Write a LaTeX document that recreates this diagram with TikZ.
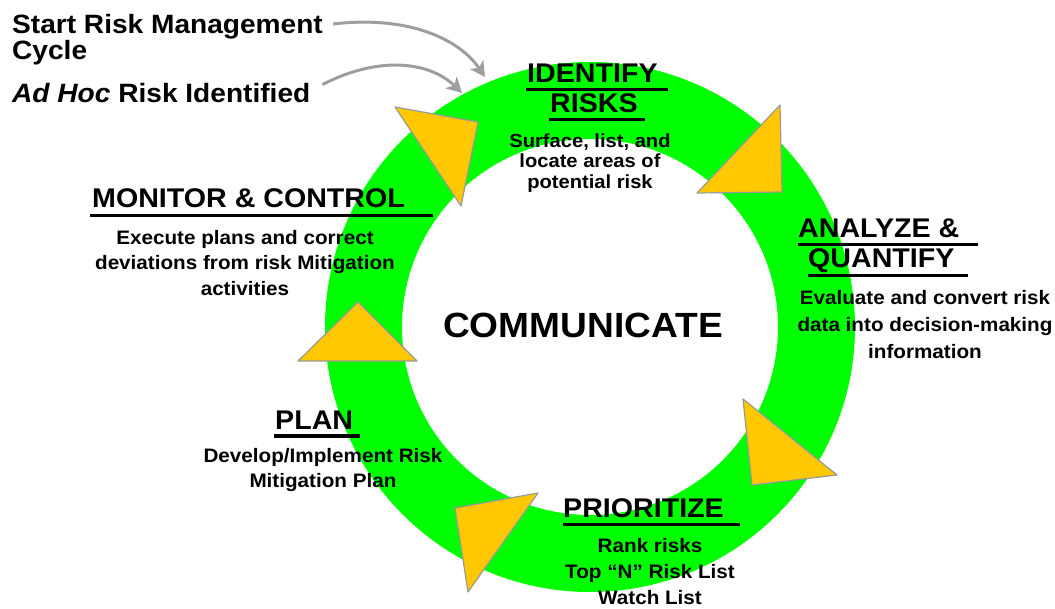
\documentclass[tikz,border=0pt]{standalone}
\usepackage{fontspec}
\setmainfont{Liberation Sans}[FakeStretch=1.06]
\usetikzlibrary{arrows.meta}
\definecolor{ringgreen}{HTML}{00FF00}
\definecolor{stepyellow}{HTML}{FFC800}
\tikzset{
  lead/.style  = {font=\bfseries\fontsize{26.5}{26}\selectfont, inner sep=0pt, align=left},
  phase/.style = {font=\bfseries\fontsize{27}{30}\selectfont, inner sep=0pt, anchor=base west},
  note/.style  = {font=\bfseries\fontsize{19.5}{26}\selectfont, inner sep=0pt, align=center},
  uline/.style = {black, line width=3pt},
  tri/.style   = {fill=stepyellow, draw=black!40, line width=1.2pt, line join=round},
  feed/.style  = {draw=black!38, line width=3pt,
                  -{Stealth[length=15pt, width=16pt, inset=4pt]}}
}

\begin{document}
\begin{tikzpicture}[x=1pt, y=1pt]
	\def \cx{590}
	\def \cy{-327}
	\useasboundingbox (0,0) rectangle (1055,-609);

	% Ring
	\fill[ringgreen, even odd rule] (\cx,\cy) circle (265) (\cx,\cy) circle (188);

	% Step arrows on the ring
	\filldraw[tri] (395,-107) -- (478,-122) -- (461,-206) -- cycle; % into identify
	\filldraw[tri] (780,-105) -- (782,-192) -- (697,-193) -- cycle; % into analyze
	\filldraw[tri] (743,-399) -- (752,-485) -- (837,-475) -- cycle; % into prioritize
	\filldraw[tri] (538,-493) -- (455,-508) -- (468,-592) -- cycle; % into plan
	\filldraw[tri] (358,-302) -- (298,-361) -- (417,-361) -- cycle; % into monitor

	% Entry points
	\node[lead, anchor=north west] (start) at (12,-14) {Start Risk Management\\Cycle};
	\node[lead, anchor=base west] (adhoc) at (12,-103) {\textit{Ad Hoc} Risk Identified};
	\coordinate (join1) at (485,-77);
	\coordinate (join2) at (462,-93);
	\draw[feed] ([shift={(10,-10)}]start.north east) .. controls (410,-15) and (460,-40) .. (join1);
	\draw[feed] ([shift={(12,9)}]adhoc.east) .. controls (380,-55) and (430,-62) .. (join2);

	% Centre
	\node[font=\bfseries\fontsize{35}{38}\selectfont, inner sep=0pt] (comm) at (583,-325) {COMMUNICATE};

	% Identify
	\node[phase] (ident1) at (527,-83) {IDENTIFY};
	\node[phase] (ident2) at (550,-113) {RISKS};
	\draw[uline] (526,-90) -- (668,-90);
	\draw[uline] (549,-120) -- (645,-120);
	\node[note, font=\bfseries\fontsize{19}{20.5}\selectfont] (identnote) at (590,-163)
		{Surface, list, and\\locate areas of\\potential risk};

	% Analyze
	\node[phase] (anal1) at (798,-238) {ANALYZE \&};
	\node[phase] (anal2) at (808,-268) {QUANTIFY};
	\draw[uline] (798,-245) -- (978,-245);
	\draw[uline] (808,-276) -- (968,-276);
	\node[note, font=\bfseries\fontsize{19.5}{27}\selectfont] (analnote) at (925,-325)
		{Evaluate and convert risk\\data into decision-making\\information};

	% Prioritize
	\node[phase] (prio) at (563,-517) {PRIORITIZE};
	\draw[uline] (563,-524) -- (740,-524);
	\node[note] (prionote) at (650,-572) {Rank risks\\Top “N” Risk List\\Watch List};

	% Plan
	\node[phase] (plan) at (275,-430) {PLAN};
	\draw[uline] (274,-436) -- (360,-436);
	\node[note, font=\bfseries\fontsize{19.5}{25}\selectfont] (plannote) at (323,-470)
		{Develop/Implement Risk\\Mitigation Plan};

	% Monitor
	\node[phase] (moni) at (92,-208) {MONITOR \& CONTROL};
	\draw[uline] (90,-216) -- (433,-216);
	\node[note, font=\bfseries\fontsize{19.5}{25.5}\selectfont] (moninote) at (245,-263)
		{Execute plans and correct\\deviations from risk Mitigation\\activities};
\end{tikzpicture}
\end{document}
